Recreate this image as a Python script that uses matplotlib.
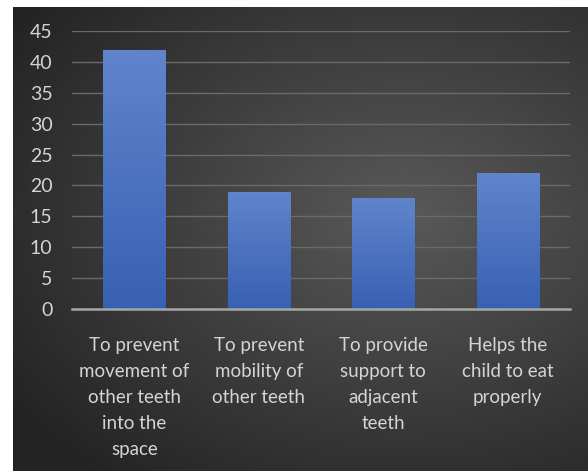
import numpy as np
import matplotlib
matplotlib.use("Agg")
import matplotlib.pyplot as plt

plt.rcParams['font.family'] = ['Lato', 'DejaVu Sans']

categories = [
    "To prevent\nmovement of\nother teeth\ninto the\nspace",
    "To prevent\nmobility of\nother teeth",
    "To provide\nsupport to\nadjacent\nteeth",
    "Helps the\nchild to eat\nproperly",
]
values = [42, 19, 18, 22]
y_ticks = [0, 5, 10, 15, 20, 25, 30, 35, 40, 45]

W, H = 588, 471
fig = plt.figure(figsize=(W / 100, H / 100), dpi=100)
fig.patch.set_facecolor("white")

# dark radial backdrop behind the chart
bg = fig.add_axes([13 / W, 0, (W - 13) / W, (H - 7) / H])
bg.set_axis_off()
yy, xx = np.mgrid[0:1:300j, 0:1:300j]
r = np.sqrt(((xx - 0.68) / 0.9) ** 2 + ((yy - 0.45) / 0.8) ** 2)
shade = np.clip(0.35 - 0.23 * r, 0.14, 0.4)
bg.imshow(np.dstack([shade] * 3), extent=[0, 1, 0, 1], aspect="auto",
          interpolation="bicubic")
bg.set_xlim(0, 1)
bg.set_ylim(0, 1)

ax = fig.add_axes([72 / W, 1 - 309 / H, (570 - 72) / W, (309 - 31) / H])
ax.patch.set_alpha(0)
x = np.arange(len(values))
bars = ax.bar(x, values, width=0.5, color="#4a70c2", edgecolor="#2a3550",
              linewidth=0.8, zorder=3)

# vertical blue gradient inside each bar
grad = np.linspace(0, 1, 100).reshape(-1, 1)
top = np.array([0.38, 0.52, 0.80])
bottom = np.array([0.22, 0.38, 0.70])
img = top * (1 - grad[..., None]) + bottom * grad[..., None]
for b in bars:
    im = ax.imshow(img, extent=[b.get_x(), b.get_x() + b.get_width(), 0, b.get_height()],
                   aspect="auto", zorder=3.5)
    im.set_clip_path(b)

ax.set_xlim(-0.5, 3.5)
ax.set_ylim(0, 45)
ax.set_yticks(y_ticks)
ax.yaxis.grid(True, color="#6a6a6a", linewidth=1)
ax.set_axisbelow(True)
for s in ["top", "right", "left"]:
    ax.spines[s].set_visible(False)
ax.spines["bottom"].set_color("#a6a6a6")
ax.spines["bottom"].set_linewidth(1.8)
ax.spines["bottom"].set_zorder(4)

ax.set_xticks(x)
ax.set_xticklabels(categories, linespacing=1.65)
ax.tick_params(axis="both", length=0, colors="#d4d4d4", labelsize=13.5)
ax.tick_params(axis="y", pad=14, labelsize=14)
ax.tick_params(axis="x", pad=20)

fig.savefig("out.png", dpi=100)
